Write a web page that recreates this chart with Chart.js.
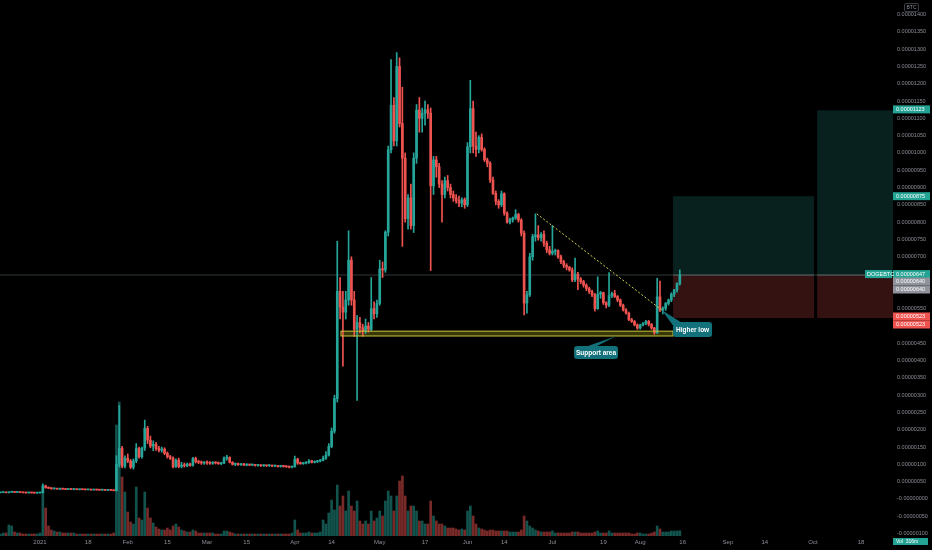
<!DOCTYPE html>
<html><head><meta charset="utf-8">
<script src="https://cdn.jsdelivr.net/npm/chart.js@4.4.1/dist/chart.umd.min.js"></script>
<style>html,body{margin:0;padding:0;background:#000;overflow:hidden}</style>
</head><body>
<canvas id="c" width="932" height="550"></canvas>
<script>
// ---- DATA (prices in satoshi = 0.00000001 BTC, daily candles) ----
// first candle: 2020-12-17 (day -15 relative to 2021-01-01)
const startDay = -15;
const opens = [
 18,18,18.5,19,18,19.5,20,19,19.5,18.5,18,17.5,18,17.5,17,17.5,
 18,38,33,31,29.5,30.5,28.5,29,28.5,27.5,28.5,27.5,28,27,27.5,27,26.5,27,26,26.5,26,25.5,26,25,25.5,25,
 24,100,146,95,118,110,92,110,146,122,147,204,170,153,158,146,141,144,132,122,118,93,112,94,98,96,101,97,117,108,106,104,
 106,104,103,105,104,102,104,118,120,106,100,102,99,101,98,100,98,99,97,98,96,97,96,97,95,96,94,95,94,93,92,93,115,104,102,104,105,110,106,108,110,112,118,127,152,196,290,
 600,555,540,575,690,575,490,510,495,485,
 500,490,550,535,565,665,662,771,1009,1138,
 1035,1250,1085,985,810,870,790,985,1124,1100,
 1115,1125,1115,905,980,960,910,880,920,900,
 880,870,862,855,865,850,1018,1128,1020,1010,
 1045,1010,980,970,922,883,860,850,882,826,
 800,807,812,822,806,768,566,590,700,758,
 763,755,765,739,720,710,716,718,700,686,
 675,670,662,633,650,636,628,618,608,599,
 590,550,592,596,567,560,588,594,585,575,
 560,546,537,518,513,503,494,503,508,513,
 505,494,480,584,546,551,565,575,592,604,622
];
const highs = [
 19,19,20,19.5,20,21,20.5,20,20,19,18.5,18.5,18.5,18,18,18.5,
 44,40,35,33,31,31,29.5,30,29,29,29,28.5,28.5,28,28,27.5,27.5,27.5,27,27,26.5,26.5,26.5,26,26,25.5,
 125,270,152,125,130,114,116,160,150,150,228,210,182,168,164,152,150,148,136,126,122,116,118,106,104,104,104,120,121,112,110,108,
 110,108,108,108,107,106,122,126,122,108,104,104,103,103,102,101,101,100,100,99,99,98,99,98,98,97,97,96,96,95,95,124,118,107,106,107,114,112,110,111,114,124,137,160,205,300,745,
 640,600,600,775,700,600,530,525,505,520,
 510,640,570,575,690,685,775,1020,1270,1160,
 1290,1275,1190,1000,880,910,1000,1140,1160,1130,
 1150,1140,1130,990,990,970,920,930,935,910,
 890,880,875,870,870,1030,1210,1150,1060,1050,
 1055,1015,985,975,930,890,865,890,885,830,
 812,815,836,826,810,775,600,710,765,824,
 790,770,775,745,730,790,722,720,705,690,
 680,672,668,696,655,640,632,622,612,604,
 594,642,600,598,570,654,598,603,588,578,
 563,550,540,522,516,506,505,510,516,516,
 507,496,638,630,555,568,578,596,606,625,662
];
const lows = [
 17,17.5,18,17.5,17.5,19,18.5,18.5,18,17.5,17,17,17,16.5,16.5,17,
 17.5,31,30,28,28,28,27,28,27,27,27,26.5,26.5,26,26.5,26,26,25.5,25.5,25.5,25,25,24.5,24.5,24.5,23.5,
 23,92,90,90,105,88,86,105,118,118,140,160,148,140,140,136,135,128,118,114,90,91,90,90,92,93,95,95,104,102,100,100,
 100,100,100,101,100,99,102,112,104,98,96,97,97,96,96,96,96,95,95,94,94,94,94,93,93,92,92,92,91,90,90,92,100,100,100,101,103,104,104,105,107,110,114,124,148,190,280,
 520,384,520,560,560,470,285,480,470,478,
 482,485,520,525,560,640,655,760,1000,1020,
 1020,1075,730,800,780,780,770,970,1060,1060,
 1080,1100,660,880,930,900,800,870,890,870,
 860,855,845,845,840,845,1000,1000,990,1000,
 1005,975,960,915,880,850,840,845,820,797,
 795,800,808,800,760,532,537,585,690,745,
 748,745,730,712,705,705,705,695,680,668,
 662,658,628,628,605,622,612,602,594,585,
 543,548,580,562,552,556,582,582,570,556,
 543,534,515,510,500,490,491,500,504,500,
 490,476,478,541,535,545,560,570,585,598,618
];
const closes = [
 18,18.5,19,18,19.5,20,19,19.5,18.5,18,17.5,18,17.5,17,17.5,18,
 38,33,31,29.5,30.5,28.5,29,28.5,27.5,28.5,27.5,28,27,27.5,27,26.5,27,26,26.5,26,25.5,26,25,25.5,25,24,
 100,146,95,118,110,92,110,146,122,147,204,170,153,158,146,141,144,132,122,118,93,112,94,98,96,101,97,117,108,106,104,106,
 104,103,105,104,102,104,118,120,106,100,102,99,101,98,100,98,99,97,98,96,97,96,97,95,96,94,95,94,93,92,93,115,104,102,104,105,110,106,108,110,112,118,127,152,196,290,600,
 555,540,575,690,575,490,510,495,485,500,
 490,550,535,565,665,662,771,1009,1138,1035,
 1250,1085,985,810,870,790,985,1124,1100,1115,
 1125,1115,905,980,960,910,880,920,900,880,
 870,862,855,865,850,1018,1128,1020,1010,1045,
 1010,980,970,922,883,860,850,882,826,800,
 807,812,822,806,768,566,590,700,758,763,
 755,765,739,720,710,716,718,700,686,675,
 670,662,633,650,636,628,618,608,599,590,
 550,592,596,567,560,588,594,585,575,560,
 546,537,518,513,503,494,503,508,513,505,
 494,480,584,546,551,565,575,592,604,622,647
];
// volume, millions of DOGE
const volumes = [
 180,120,180,180,660,600,240,180,180,120,120,120,120,120,120,180,
 2700,1680,600,360,300,240,240,180,180,180,180,180,120,120,120,120,120,120,120,120,120,120,120,120,120,180,
 6660,8040,3540,2640,1440,840,720,2940,1080,960,2640,1680,1080,780,540,420,360,360,480,360,600,720,540,360,300,240,240,360,300,180,180,180,
 180,180,180,120,120,120,300,300,240,180,120,120,120,120,120,120,120,120,120,120,120,120,120,120,120,120,120,120,120,120,180,960,360,180,180,180,240,180,180,180,240,960,720,1380,2160,1560,3060,
 1800,2400,1500,2700,1800,1500,2100,900,720,900,
 720,1500,900,1080,1500,1200,2100,2700,2400,1500,
 2400,3300,3600,2400,1500,1800,1800,1500,900,900,
 720,720,2100,1200,900,720,720,600,480,480,
 480,420,360,420,360,1500,1800,1200,720,480,
 420,360,300,360,360,300,300,300,300,300,
 240,240,240,240,360,1200,900,600,480,360,
 300,240,240,240,240,300,180,180,180,180,
 180,180,240,240,240,180,180,180,180,180,
 240,300,180,180,180,300,180,180,180,180,
 180,180,180,120,120,180,180,120,120,120,
 180,240,600,420,240,240,240,300,300,300,316
];
const xTickDays   = [0,17,31,45,59,73,90,103,120,136,151,164,181,199,212,227,243,256,273,290];
const xTickLabels = ['2021','18','Feb','15','Mar','15','Apr','14','May','17','Jun','14','Jul','19','Aug','16','Sep','14','Oct','18'];
const yTicks = [-100,-50,0,50,100,150,200,250,300,350,400,450,500,550,600,650,700,750,800,850,900,950,
                1000,1050,1100,1150,1200,1250,1300,1350,1400];
// drawings (data coordinates: day, satoshi)
const trendLine = [{x:175.5, y:824}, {x:219.6, y:546}];
const supportArea = {from:106.3, to:223.6, lo:471, hi:485};
const longPositions = [
  {from:223.6, to:273.4, entry:647, target:875, stop:523},
  {from:274.5, to:320,   entry:647, target:1123, stop:523}
];
const lastPrice = 647;
const callouts = [
  {text:'Support area', day:196.4, price:423, w:44, h:13, base:[[-8,-6.5],[1,-6.5]], tip:{day:203.6, price:471}},
  {text:'Higher low',   day:230.5, price:490, w:39, h:15, base:[[-19.5,-4],[-12,-7.5]], tip:{day:219.6, price:546}}
];
const axisTags = [
  {value:1123, text:'0.00001123', bg:'#22a393', dy:-1},
  {value:875,  text:'0.00000875', bg:'#22a393', dy:0},
  {value:647,  text:'0.00000647', bg:'#22a393', dy:-1},
  {value:640,  text:'0.00000640', bg:'#8f929b', dy:4},
  {value:640,  text:'0.00000640', bg:'#8f929b', dy:12},
  {value:523,  text:'0.00000523', bg:'#ef5350', dy:-1.5},
  {value:523,  text:'0.00000523', bg:'#ef5350', dy:6.5}
];

const UP = '#26a69a', DOWN = '#ef5350';
const days = closes.map((_, i) => startDay + i);
const isUp = i => closes[i] >= opens[i];

function fmt(v){
  if (v === 0) return '-0.00000000';
  return (v < 0 ? '-' : '') + (Math.abs(v) / 1e8).toFixed(8);
}
function rrect(ctx, x, y, w, h, r){
  ctx.beginPath();
  ctx.moveTo(x + r, y); ctx.lineTo(x + w - r, y); ctx.quadraticCurveTo(x + w, y, x + w, y + r);
  ctx.lineTo(x + w, y + h - r); ctx.quadraticCurveTo(x + w, y + h, x + w - r, y + h);
  ctx.lineTo(x + r, y + h); ctx.quadraticCurveTo(x, y + h, x, y + h - r);
  ctx.lineTo(x, y + r); ctx.quadraticCurveTo(x, y, x + r, y); ctx.closePath();
}

const overlay = {
  id: 'overlay',
  beforeDatasetsDraw(chart){
    const {ctx, chartArea:a, scales:{x, y}} = chart;
    ctx.save();
    ctx.beginPath(); ctx.rect(a.left, a.top, a.right - a.left, a.bottom - a.top); ctx.clip();
    for (const p of longPositions){
      const x0 = x.getPixelForValue(p.from), x1 = Math.min(x.getPixelForValue(p.to), a.right);
      const ye = y.getPixelForValue(p.entry), yt = y.getPixelForValue(p.target), ys = y.getPixelForValue(p.stop);
      ctx.fillStyle = 'rgba(38,166,154,0.2)'; ctx.fillRect(x0, yt, x1 - x0, ye - yt);
      ctx.fillStyle = 'rgba(239,83,80,0.22)'; ctx.fillRect(x0, ye, x1 - x0, ys - ye);
      ctx.fillStyle = 'rgba(120,140,140,0.5)'; ctx.fillRect(x0, ye - 0.5, x1 - x0, 1);
    }
    const yl = y.getPixelForValue(lastPrice);
    ctx.fillStyle = 'rgba(110,125,125,0.45)'; ctx.fillRect(a.left, Math.round(yl) - 0.5, a.right - a.left, 1);
    const sx0 = x.getPixelForValue(supportArea.from), sx1 = x.getPixelForValue(supportArea.to);
    const sy0 = y.getPixelForValue(supportArea.hi), sy1 = y.getPixelForValue(supportArea.lo);
    ctx.fillStyle = 'rgba(160,160,30,0.35)'; ctx.fillRect(sx0, sy0, sx1 - sx0, sy1 - sy0);
    ctx.restore();
  },
  afterDatasetsDraw(chart){
    const {ctx, chartArea:a, scales:{x, y}} = chart;
    ctx.save();
    const sx0 = x.getPixelForValue(supportArea.from), sx1 = x.getPixelForValue(supportArea.to);
    const sy0 = y.getPixelForValue(supportArea.hi), sy1 = y.getPixelForValue(supportArea.lo);
    ctx.strokeStyle = '#c9c73a'; ctx.lineWidth = 1;
    ctx.strokeRect(sx0, sy0, sx1 - sx0, sy1 - sy0);
    for (const c of callouts){
      const cx = x.getPixelForValue(c.day), cy = y.getPixelForValue(c.price);
      const tx = x.getPixelForValue(c.tip.day), ty = y.getPixelForValue(c.tip.price);
      ctx.fillStyle = '#12717a';
      ctx.beginPath();
      ctx.moveTo(cx + c.base[0][0], cy + c.base[0][1]);
      ctx.lineTo(tx, ty);
      ctx.lineTo(cx + c.base[1][0], cy + c.base[1][1]);
      ctx.closePath(); ctx.fill();
      rrect(ctx, cx - c.w / 2, cy - c.h / 2, c.w, c.h, 3); ctx.fill();
      ctx.fillStyle = '#ffffff'; ctx.font = '600 6.5px "Liberation Sans", Arial, sans-serif';
      ctx.textAlign = 'center'; ctx.textBaseline = 'middle';
      ctx.fillText(c.text, cx, cy + 0.5);
    }
    ctx.restore();
  },
  afterDraw(chart){
    const {ctx, chartArea:a, scales:{y}} = chart;
    ctx.save();
    ctx.font = '5.5px "Liberation Sans", Arial, sans-serif';
    ctx.textBaseline = 'middle'; ctx.textAlign = 'left';
    for (const t of axisTags){
      const yy = y.getPixelForValue(t.value) + t.dy;
      ctx.fillStyle = t.bg; ctx.fillRect(a.right, yy - 4, 37, 8);
      ctx.fillStyle = '#fff'; ctx.fillText(t.text, a.right + 3, yy + 0.3);
    }
    const yl = y.getPixelForValue(lastPrice) - 1;
    ctx.fillStyle = '#22a393'; ctx.fillRect(a.right - 28, yl - 4, 27, 8);
    ctx.fillStyle = '#fff'; ctx.fillText('DOGEBTC', a.right - 26, yl + 0.3);
    // currency box
    ctx.strokeStyle = '#3a3d45'; ctx.lineWidth = 1;
    rrect(ctx, a.right + 11.5, 3.5, 14, 8, 1.5); ctx.stroke();
    ctx.fillStyle = '#8c8f98'; ctx.textAlign = 'center'; ctx.font = '5px "Liberation Sans", Arial, sans-serif';
    ctx.fillText('BTC', a.right + 18.5, 7.8);
    // volume tag
    ctx.fillStyle = '#22a393'; ctx.fillRect(a.right, a.bottom + 2, 35, 7);
    ctx.fillStyle = '#fff'; ctx.textAlign = 'left';
    ctx.fillText('Vol  316m', a.right + 3, a.bottom + 5.8);
    ctx.restore();
  }
};

const wickData = days.map((d, i) => ({x: d, y: [lows[i], highs[i]]}));
const bodyData = days.map((d, i) => ({x: d, y: [opens[i], closes[i]]}));
const volData  = days.map((d, i) => ({x: d, y: volumes[i]}));

function noPad(s){ s.paddingTop = 0; s.paddingBottom = 0; s.paddingLeft = 0; s.paddingRight = 0; }

new Chart(document.getElementById('c'), {
  type: 'bar',
  data: {
    datasets: [
      {type:'line', data: trendLine, borderColor:'#d8d04a', borderWidth:1, borderDash:[2,2],
       pointRadius:0, fill:false, order:0, yAxisID:'y'},
      {data: bodyData, backgroundColor: days.map((_, i) => isUp(i) ? UP : DOWN),
       barThickness:2, minBarLength:1, order:1, yAxisID:'y'},
      {data: wickData, backgroundColor: days.map((_, i) => isUp(i) ? UP : DOWN),
       barThickness:1, order:2, yAxisID:'y'},
      {data: volData, backgroundColor: days.map((_, i) => isUp(i) ? 'rgba(38,166,154,0.5)' : 'rgba(239,83,80,0.5)'),
       barThickness:2, order:3, yAxisID:'yv'}
    ]
  },
  options: {
    responsive:false, animation:false, devicePixelRatio:1,
    layout:{padding:0},
    datasets:{bar:{grouped:false, borderWidth:0}},
    plugins:{legend:{display:false}, tooltip:{enabled:false}},
    scales:{
      x:{type:'linear', min:-14.13, max:301.3, offset:false,
         grid:{display:false, drawTicks:false}, border:{display:false},
         afterBuildTicks: s => { s.ticks = xTickDays.map(v => ({value:v})); },
         afterFit: s => { s.height = 14; noPad(s); },
         ticks:{autoSkip:false, maxRotation:0, padding:3, color:'#8c8f98',
                font:{size:6, family:'"Liberation Sans", Arial, sans-serif'},
                callback: v => { const k = xTickDays.indexOf(v); return k >= 0 ? xTickLabels[k] : ''; }}},
      y:{position:'right', min:-107, max:1442,
         grid:{display:false, drawTicks:false}, border:{display:false},
         afterBuildTicks: s => { s.ticks = yTicks.map(v => ({value:v})); },
         afterFit: s => { s.width = 39; noPad(s); },
         ticks:{autoSkip:false, padding:4, color:'#8c8f98',
                font:{size:5.5, family:'"Liberation Sans", Arial, sans-serif'},
                callback: v => fmt(v)}},
      yv:{display:false, min:0, max:32160}
    }
  },
  plugins:[overlay]
});
</script>
</body></html>
